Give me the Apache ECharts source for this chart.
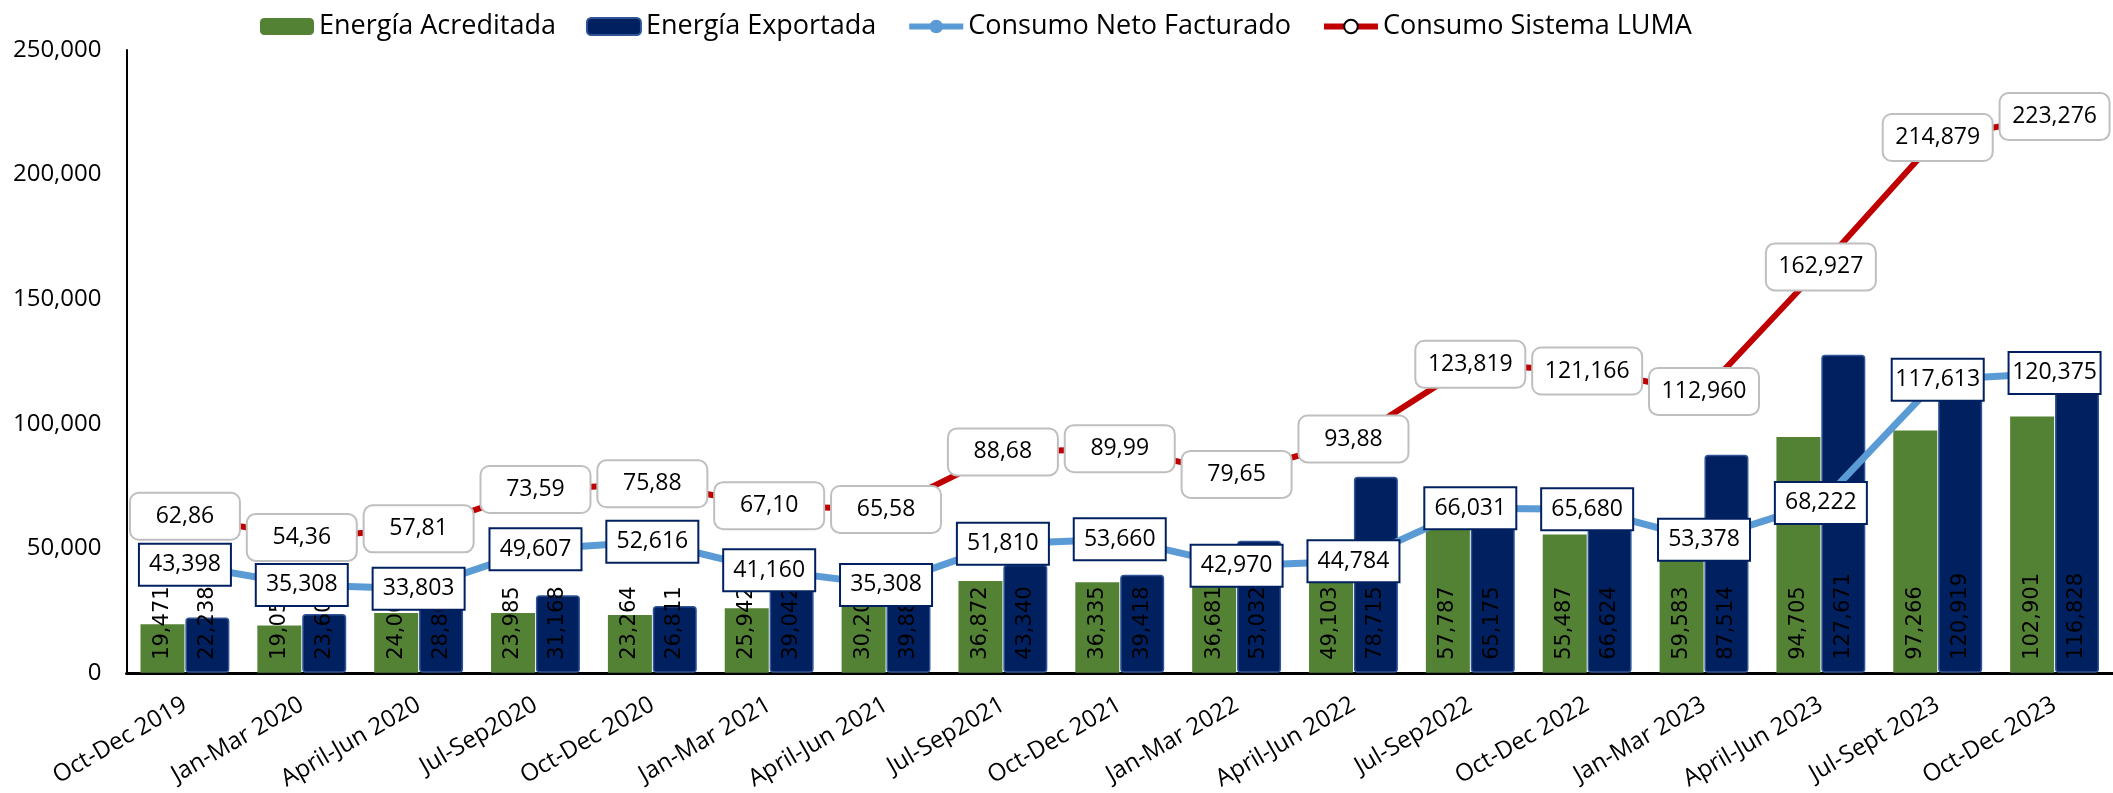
<!DOCTYPE html>
<html>
<head>
<meta charset="utf-8">
<script src="https://cdn.jsdelivr.net/npm/echarts@6/dist/echarts.min.js"></script>
<style>
html,body{margin:0;padding:0;background:#fff;}
#chart{width:2113px;height:793px;}
</style>
</head>
<body>
<div id="chart"></div>
<script>
const categories = ['Oct-Dec 2019','Jan-Mar 2020','April-Jun 2020','Jul-Sep2020','Oct-Dec 2020','Jan-Mar 2021','April-Jun 2021','Jul-Sep2021','Oct-Dec 2021','Jan-Mar 2022','April-Jun 2022','Jul-Sep2022','Oct-Dec 2022','Jan-Mar 2023','April-Jun 2023','Jul-Sept 2023','Oct-Dec 2023'];
const energiaAcreditada = [19471, 19050, 24000, 23985, 23264, 25942, 30200, 36872, 36335, 36681, 49103, 57787, 55487, 59583, 94705, 97266, 102901];
const energiaExportada = [22238, 23600, 28800, 31168, 26811, 39042, 39880, 43340, 39418, 53032, 78715, 65175, 66624, 87514, 127671, 120919, 116828];
const consumoNeto = [43398, 35308, 33803, 49607, 52616, 41160, 35308, 51810, 53660, 42970, 44784, 66031, 65680, 53378, 68222, 117613, 120375];
const consumoLuma = [62860, 54360, 57810, 73590, 75880, 67100, 65580, 88680, 89990, 79650, 93880, 123819, 121166, 112960, 162927, 214879, 223276];
const consumoLumaLabels = ['62,86','54,36','57,81','73,59','75,88','67,10','65,58','88,68','89,99','79,65','93,88','123,819','121,166','112,960','162,927','214,879','223,276'];
const yTicks = [0, 50000, 100000, 150000, 200000, 250000];

const fmt = v => Number(v).toLocaleString('en-US');
const FONT = 'Open Sans';

const chart = echarts.init(document.getElementById('chart'), null, {renderer: 'canvas'});
const barLabel = {
  show: true,
  position: 'insideBottom',
  rotate: 90,
  align: 'left',
  verticalAlign: 'middle',
  distance: 13,
  fontFamily: 'DejaVu Sans',
  fontSize: 21,
  color: '#000',
  formatter: p => fmt(p.value)
};
chart.setOption({
  animation: false,
  backgroundColor: '#fff',
  legend: {
    left: 255,
    top: 8,
    itemWidth: 54,
    itemHeight: 17,
    itemGap: 30,
    textStyle: {fontFamily: FONT, fontSize: 27, color: '#000'},
    data: [
      {name: 'Energía Acreditada'},
      {name: 'Energía Exportada'},
      {name: 'Consumo Neto Facturado', lineStyle: {width: 6}},
      {name: 'Consumo Sistema LUMA', lineStyle: {width: 6}}
    ]
  },
  grid: {left: 126.5, right: -3, top: 50, bottom: 111.3, containLabel: false},
  xAxis: {
    type: 'category',
    data: categories,
    axisLine: {lineStyle: {color: '#000', width: 3}},
    axisTick: {show: false},
    axisLabel: {rotate: 30, margin: 30, fontFamily: FONT, fontSize: 24, color: '#000', interval: 0}
  },
  yAxis: {
    type: 'value',
    min: yTicks[0],
    max: yTicks[yTicks.length - 1],
    interval: yTicks[1] - yTicks[0],
    axisLine: {show: true, lineStyle: {color: '#000', width: 2}},
    axisTick: {show: false},
    splitLine: {show: false},
    axisLabel: {margin: 25, fontFamily: FONT, fontSize: 24, color: '#000', formatter: v => fmt(v)}
  },
  series: [
    {
      name: 'Energía Acreditada',
      type: 'bar',
      data: energiaAcreditada,
      barWidth: 44,
      barGap: '2%',
      z: 2,
      itemStyle: {color: '#548235'},
      label: barLabel
    },
    {
      name: 'Energía Exportada',
      type: 'bar',
      data: energiaExportada,
      barWidth: 44,
      z: 2,
      itemStyle: {color: '#002060', borderColor: '#2F5597', borderWidth: 1.5, borderRadius: 3},
      label: barLabel
    },
    {
      name: 'Consumo Neto Facturado',
      type: 'line',
      data: consumoNeto,
      z: 4,
      symbol: 'circle',
      symbolSize: 12,
      lineStyle: {color: '#5B9BD5', width: 7},
      itemStyle: {color: '#5B9BD5'},
      label: {
        show: true,
        position: 'inside',
        fontFamily: FONT,
        fontSize: 23,
        color: '#000',
        backgroundColor: '#fff',
        borderColor: '#002060',
        borderWidth: 2,
        width: 76,
        align: 'center',
        lineHeight: 28,
        padding: [6, 7],
        formatter: p => fmt(p.value)
      }
    },
    {
      name: 'Consumo Sistema LUMA',
      type: 'line',
      data: consumoLuma,
      z: 3,
      symbol: 'circle',
      symbolSize: 10,
      lineStyle: {color: '#C00000', width: 6},
      itemStyle: {color: '#fff', borderColor: '#000', borderWidth: 1.5},
      label: {
        show: true,
        position: 'inside',
        fontFamily: FONT,
        fontSize: 23,
        color: '#000',
        backgroundColor: '#fff',
        borderColor: '#BFBFBF',
        borderWidth: 2,
        borderRadius: 8,
        width: 92,
        align: 'center',
        lineHeight: 29,
        padding: [8, 8],
        formatter: p => consumoLumaLabels[p.dataIndex]
      }
    }
  ]
});
</script>
</body>
</html>
